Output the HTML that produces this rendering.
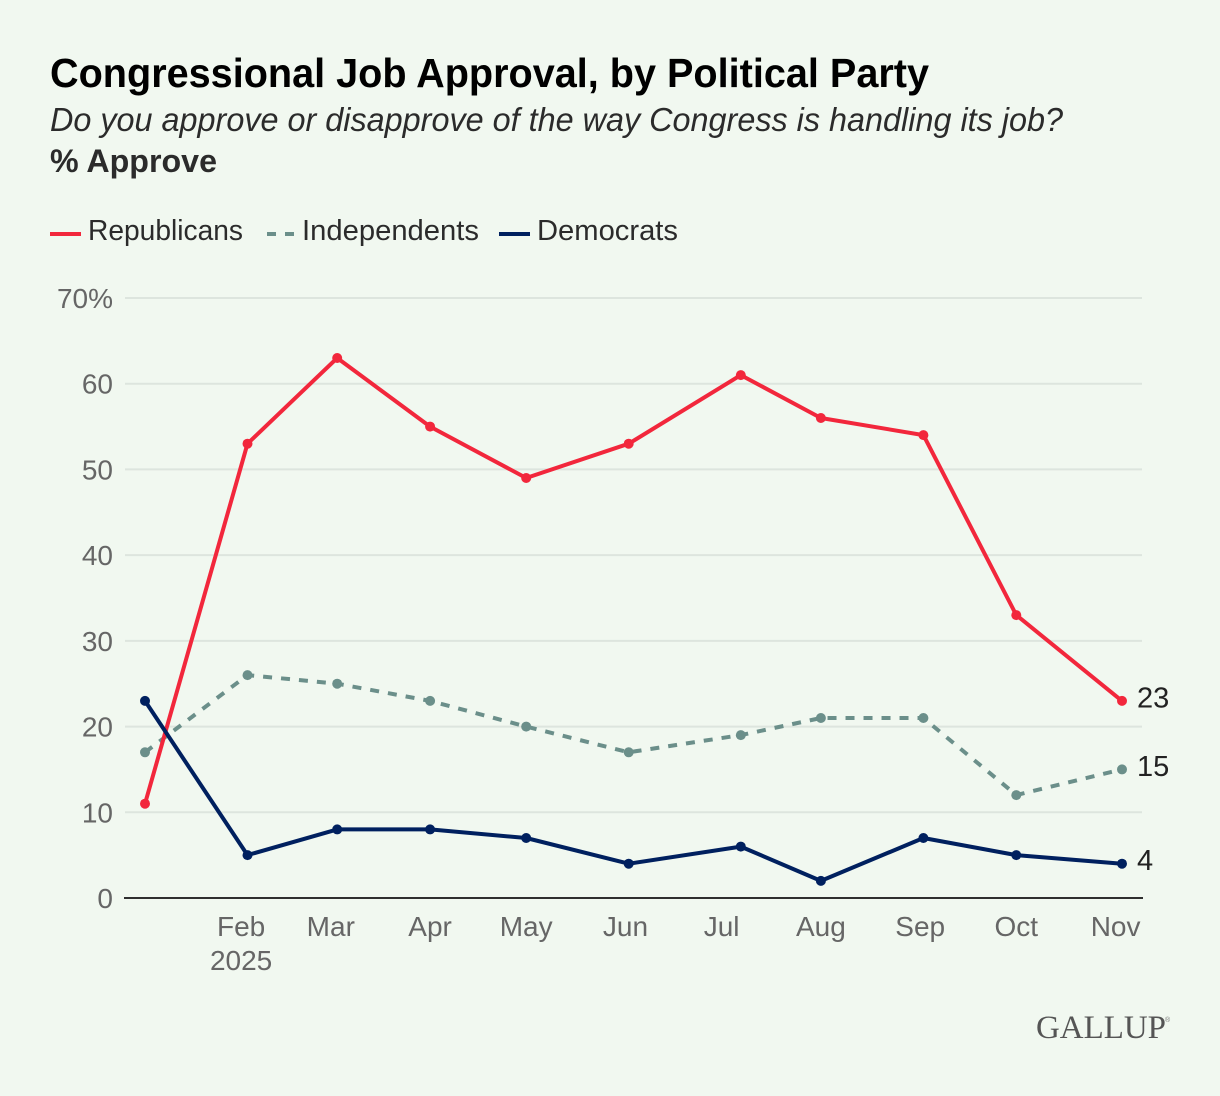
<!DOCTYPE html>
<html lang="en">
<head>
<meta charset="utf-8">
<title>Congressional Job Approval, by Political Party</title>
<style>
  html, body { margin: 0; padding: 0; background: #f1f8f0; }
  svg { display: block; font-family: "Liberation Sans", Arial, sans-serif; }
</style>
</head>
<body>
<svg id="chart" xmlns="http://www.w3.org/2000/svg" width="1220" height="1096" viewBox="0 0 1220 1096">
  <rect x="0" y="0" width="1220" height="1096" fill="#f1f8f0"/>
  <text x="50" y="87" font-size="41" font-weight="700" fill="#000" textLength="879" lengthAdjust="spacingAndGlyphs">Congressional Job Approval, by Political Party</text>
  <text x="50" y="131" font-size="33" font-style="italic" fill="#2b2b2b" textLength="1013" lengthAdjust="spacingAndGlyphs">Do you approve or disapprove of the way Congress is handling its job?</text>
  <text x="50" y="172" font-size="32" font-weight="700" fill="#2b2b2b" textLength="167" lengthAdjust="spacingAndGlyphs">% Approve</text>

  <g>
    <line x1="50" x2="81" y1="234" y2="234" stroke="#f2273c" stroke-width="4"/>
    <text x="88" y="240" font-size="29" fill="#2b2b2b" textLength="155" lengthAdjust="spacingAndGlyphs">Republicans</text>
    <line x1="267" x2="295" y1="234" y2="234" stroke="#6b8f8a" stroke-width="4" stroke-dasharray="9 9"/>
    <text x="302" y="240" font-size="29" fill="#2b2b2b" textLength="177" lengthAdjust="spacingAndGlyphs">Independents</text>
    <line x1="499" x2="530" y1="234" y2="234" stroke="#00205f" stroke-width="4"/>
    <text x="537" y="240" font-size="29" fill="#2b2b2b" textLength="141" lengthAdjust="spacingAndGlyphs">Democrats</text>
  </g>

  <g id="grid"></g>
  <g id="y-axis"></g>
  <g id="x-axis"></g>
  <g id="series"></g>
  <g id="end-labels"></g>

  <text x="1036" y="1038" font-family="'Liberation Serif', serif" font-size="33" fill="#555" textLength="130" lengthAdjust="spacingAndGlyphs">GALLUP</text>
  <text x="1165" y="1022" font-family="'Liberation Sans', sans-serif" font-size="7" fill="#777">®</text>
</svg>

<script>
const surveyDays = [0, 32, 60, 89, 119, 151, 186, 211, 243, 272, 305];
const republicans = [11, 53, 63, 55, 49, 53, 61, 56, 54, 33, 23];
const independents = [17, 26, 25, 23, 20, 17, 19, 21, 21, 12, 15];
const democrats = [23, 5, 8, 8, 7, 4, 6, 2, 7, 5, 4];
const yTicks = [0, 10, 20, 30, 40, 50, 60, 70];
const monthLabels = ['Feb', 'Mar', 'Apr', 'May', 'Jun', 'Jul', 'Aug', 'Sep', 'Oct', 'Nov'];
const monthTickDays = [30, 58, 89, 119, 150, 180, 211, 242, 272, 303];
const yearLabel = '2025';

const SVG_NS = 'http://www.w3.org/2000/svg';
const xScale = function (d) { return 145 + (d / 305) * 977; };
const yScale = function (v) { return 898 - (v / 70) * 600; };

function make(tag, parent, attrs, text) {
  const el = document.createElementNS(SVG_NS, tag);
  Object.keys(attrs).forEach(function (k) { el.setAttribute(k, attrs[k]); });
  if (text !== undefined) el.textContent = text;
  parent.appendChild(el);
  return el;
}

const gridG = document.getElementById('grid');
const yG = document.getElementById('y-axis');
const xG = document.getElementById('x-axis');
const seriesG = document.getElementById('series');
const endG = document.getElementById('end-labels');

yTicks.forEach(function (t) {
  if (t !== 0) {
    const g = make('line', gridG, { x1: 125, x2: 1142, y1: yScale(t), y2: yScale(t), stroke: '#dde5de', 'stroke-width': 2 });
    
    
  }
  const label = make('text', yG, { x: 113, y: yScale(t) + 10, 'font-size': 28, fill: '#666', 'text-anchor': 'end' }, t === 70 ? t + '%' : String(t));
  
  
});

const baseline = make('line', xG, { x1: 124, x2: 1143, y1: yScale(0), y2: yScale(0), stroke: '#2f2f2f', 'stroke-width': 2 });



monthLabels.forEach(function (m, i) {
  const label = make('text', xG, { x: xScale(monthTickDays[i]), y: 936, 'font-size': 28, fill: '#666', 'text-anchor': 'middle' }, m);
  
  
});
const yearText = make('text', xG, { x: xScale(monthTickDays[0]), y: 970, 'font-size': 28, fill: '#666', 'text-anchor': 'middle' }, yearLabel);



function drawSeries(values, color, dash) {
  const pts = values.map(function (v, i) { return xScale(surveyDays[i]).toFixed(1) + ',' + yScale(v).toFixed(1); }).join(' ');
  const attrs = { points: pts, fill: 'none', stroke: color, 'stroke-width': 4, 'stroke-linejoin': 'round' };
  if (dash) attrs['stroke-dasharray'] = dash;
  const line = make('polyline', seriesG, attrs);
  
  
  values.forEach(function (v, i) {
    const c = make('circle', seriesG, { cx: xScale(surveyDays[i]), cy: yScale(v), r: 5, fill: color });
    
    
  });
  const last = values[values.length - 1];
  const end = make('text', endG, { x: 1137, y: yScale(last) + 6.5, 'font-size': 29, fill: '#222' }, String(last));
  
  
}

drawSeries(independents, '#6b8f8a', '9 9');
drawSeries(republicans, '#f2273c', null);
drawSeries(democrats, '#00205f', null);
</script>
</body>
</html>
